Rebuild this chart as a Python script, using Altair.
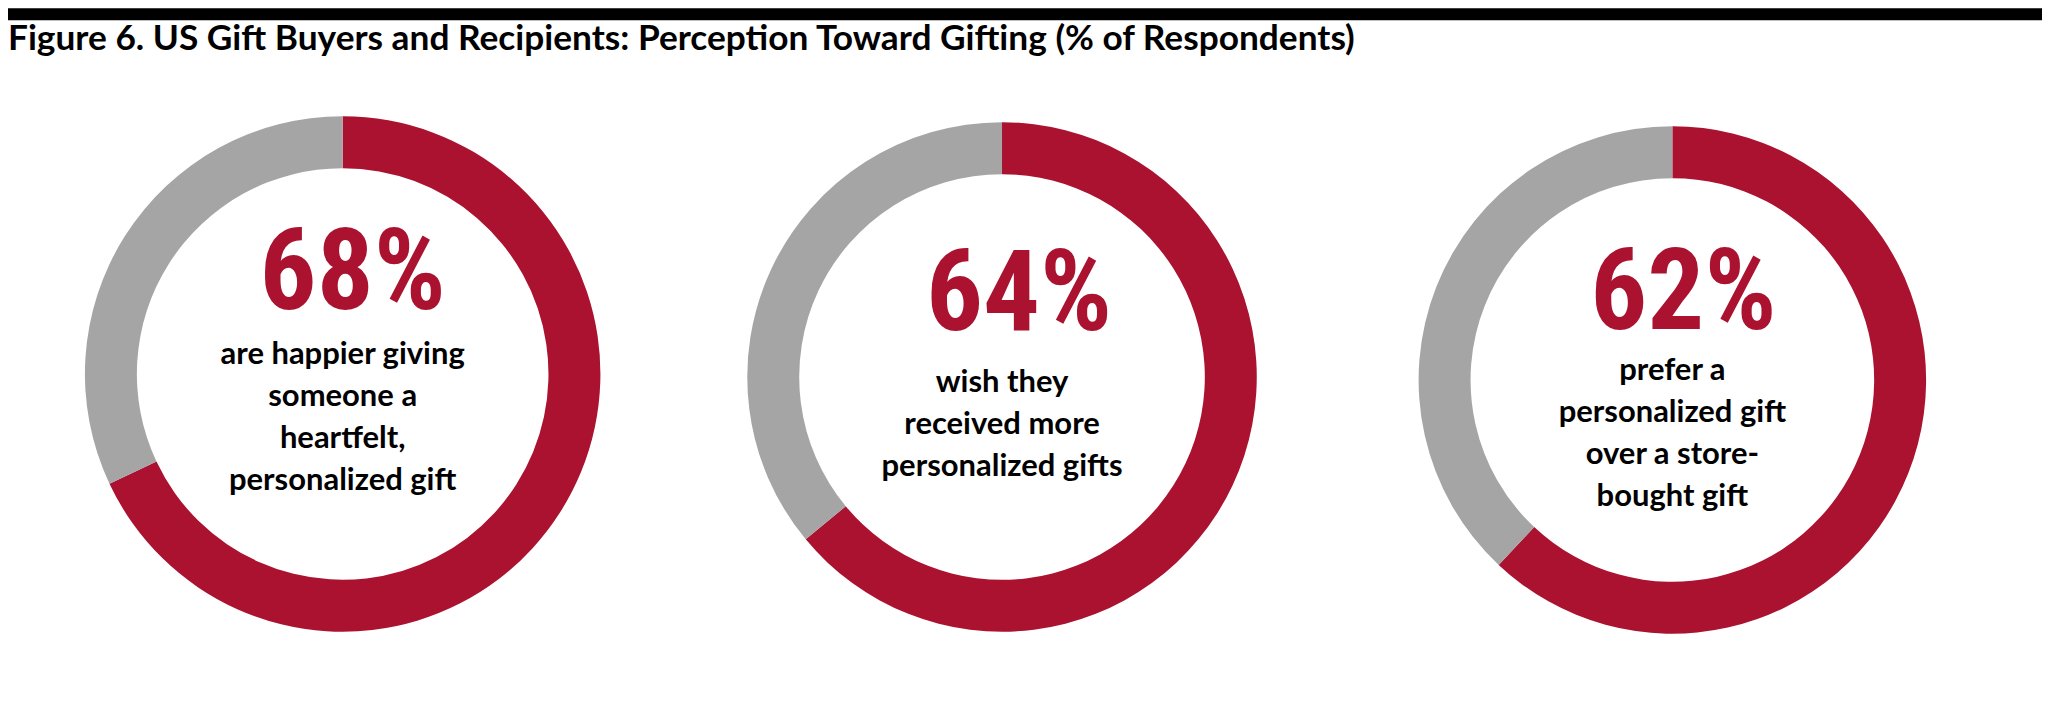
import math
import altair as alt
import pandas as pd

# ---- data ----
title_text = "Figure 6. US Gift Buyers and Recipients: Perception Toward Gifting (% of Respondents)"
shares = [68, 64, 62]
descriptions = [
    ["are happier giving", "someone a", "heartfelt,", "personalized gift"],
    ["wish they", "received more", "personalized gifts"],
    ["prefer a", "personalized gift", "over a store-", "bought gift"],
]

# ---- style / layout ----
RED = "#AA1230"
GRAY = "#A5A5A5"
LABEL_FONT = "Lato"
PCT_FONT = "'Roboto Condensed', 'Liberation Sans Narrow', 'DejaVu Sans Condensed', 'Open Sans Condensed', Roboto, sans-serif"

panel_w = [670, 650, 692]
panel_h = [552, 558, 564]
outer_r = [258, 255, 254]
ring = 52
pct_x = [345, 342, 357]
pct_y = [211, 232, 231]
lab_y = [266, 294, 282]


def donut(i):
    v = shares[i]
    df = pd.DataFrame({
        "part": ["yes", "no"],
        "start": [0, v],
        "end": [v, 100],
    })
    arc = alt.Chart(df).mark_arc(
        radius=outer_r[i], radius2=outer_r[i] - ring, strokeWidth=0
    ).encode(
        theta=alt.Theta("start:Q", scale=alt.Scale(domain=[0, 100], range=[0, 2 * math.pi])),
        theta2="end:Q",
        color=alt.Color("part:N", scale=alt.Scale(domain=["yes", "no"], range=[RED, GRAY]), legend=None),
    )
    pdf = pd.DataFrame({"pct": [f"{v}%"]})
    pct = alt.Chart(pdf).mark_text(
        font=PCT_FONT, fontSize=113, fontWeight="bold", color=RED,
        align="center", baseline="alphabetic",
    ).encode(text="pct:N", x=alt.value(pct_x[i]), y=alt.value(pct_y[i]))
    ldf = pd.DataFrame({"desc": ["\n".join(descriptions[i])]})
    lab = alt.Chart(ldf).mark_text(
        font=LABEL_FONT, fontSize=31, fontWeight="bold", color="#000000",
        align="center", baseline="alphabetic", lineBreak="\n", lineHeight=42,
    ).encode(text="desc:N", x=alt.value(panel_w[i] / 2), y=alt.value(lab_y[i]))
    return alt.layer(arc, pct, lab).properties(width=panel_w[i], height=panel_h[i])


header_df = pd.DataFrame({"t": [title_text]})
bar = alt.Chart(header_df).mark_rect(color="#000000").encode(
    x=alt.value(0), x2=alt.value(2036), y=alt.value(0), y2=alt.value(12)
)
title = alt.Chart(header_df).mark_text(
    font=LABEL_FONT, fontSize=35.3, fontWeight="bold", color="#000000",
    align="left", baseline="alphabetic",
).encode(text="t:N", x=alt.value(0), y=alt.value(42))
header = alt.layer(bar, title).properties(width=2036, height=90)

donuts = alt.hconcat(donut(0), donut(1), donut(2), spacing=0)

chart = alt.vconcat(header, donuts, spacing=0).properties(
    padding=0, background="white"
).configure_view(stroke=None, strokeWidth=0)

chart.save("out.html", embed_options={"renderer": "svg", "actions": False})
